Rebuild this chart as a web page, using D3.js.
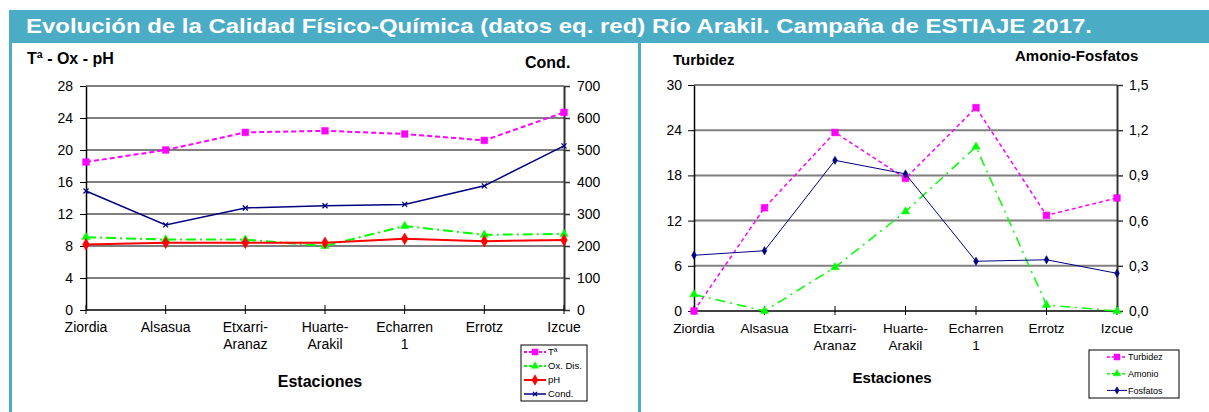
<!DOCTYPE html>
<html>
<head>
<meta charset="utf-8">
<script src="https://cdn.jsdelivr.net/npm/d3@7"></script>
<style>
  body { margin: 0; background: #fff; }
  svg { display: block; font-family: "Liberation Sans", Arial, sans-serif; }
</style>
</head>
<body>
<div id="main-content"></div>
<script>
// Stations along the river ("|" = line break)
const stations = ["Ziordia", "Alsasua", "Etxarri-|Aranaz", "Huarte-|Arakil", "Echarren|1", "Errotz", "Izcue"];

// Left chart: Tª, Ox. Dis., pH (left axis) and Cond. (right axis)
const temperatura = [18.5, 20.0, 22.2, 22.4, 22.0, 21.2, 24.7];
const oxDisuelto = [9.1, 8.8, 8.8, 8.0, 10.5, 9.4, 9.5];
const ph = [8.2, 8.4, 8.4, 8.4, 8.9, 8.6, 8.75];
const conductividad = [372, 266, 319, 326, 330, 388, 513];
const leftTicksA = [0, 4, 8, 12, 16, 20, 24, 28];
const leftTicksB = [0, 100, 200, 300, 400, 500, 600, 700];

// Right chart: Turbidez (left axis), Amonio and Fosfatos (right axis)
const turbidez = [0, 13.7, 23.7, 17.6, 27.0, 12.7, 15.0];
const amonio = [0.11, 0, 0.29, 0.66, 1.09, 0.04, 0];
const fosfatos = [0.37, 0.40, 1.0, 0.91, 0.33, 0.34, 0.25];
const rightTicksA = [0, 6, 12, 18, 24, 30];
const rightTicksB = [0, 0.3, 0.6, 0.9, 1.2, 1.5];

const teal = "#4bacc6";
const width = 1209;
const height = 412;

const svg = d3.select("#main-content")
  .append("svg")
  .attr("width", width)
  .attr("height", height);

// Frame: title bar, left border and divider
svg.append("rect").attr("x", 9).attr("y", 10).attr("width", width - 9).attr("height", 33).attr("fill", teal);
svg.append("rect").attr("x", 9).attr("y", 10).attr("width", 3).attr("height", height - 10).attr("fill", teal);
svg.append("rect").attr("x", 638).attr("y", 43).attr("width", 3).attr("height", height - 43).attr("fill", teal);

svg.append("text")
  .attr("x", 26)
  .attr("y", 33)
  .attr("fill", "#fff")
  .attr("font-size", 21)
  .attr("font-weight", "bold")
  .attr("textLength", 1066)
  .attr("lengthAdjust", "spacingAndGlyphs")
  .text("Evolución de la Calidad Físico-Química (datos eq. red) Río Arakil. Campaña de ESTIAJE 2017.");

// marker shapes
function markerPath(type, size) {
  if (type === "x") {
    const s = size;
    return `M${-s},${-s}L${s},${s}M${-s},${s}L${s},${-s}`;
  }
  const sym = { square: d3.symbolSquare, triangle: d3.symbolTriangle, diamond: d3.symbolDiamond }[type];
  return d3.symbol().type(sym).size(size)();
}

function drawMarker(g, type, size, color, cx, cy) {
  g.append("path")
    .attr("transform", `translate(${cx},${cy})`)
    .attr("d", markerPath(type, size))
    .attr("fill", type === "x" ? "none" : color)
    .attr("stroke", color)
    .attr("stroke-width", type === "x" ? 1.3 : 0.5);
}

function drawChart(cfg) {
  const g = svg.append("g");

  const x = d3.scalePoint()
    .domain(d3.range(stations.length))
    .range([cfg.left, cfg.right]);
  const yA = d3.scaleLinear().domain([0, d3.max(cfg.ticksA)]).range([cfg.bottom, cfg.top]);
  const yB = d3.scaleLinear().domain([0, d3.max(cfg.ticksB)]).range([cfg.bottom, cfg.top]);

  // gridlines
  g.append("g")
    .selectAll("line")
    .data(cfg.ticksA.slice(1))
    .join("line")
    .attr("x1", cfg.left)
    .attr("x2", cfg.right)
    .attr("y1", d => yA(d))
    .attr("y2", d => yA(d))
    .attr("stroke", "#7f7f7f")
    .attr("stroke-width", 2);

  // left axis
  const axA = g.append("g")
    .attr("transform", `translate(${cfg.left},0)`)
    .call(d3.axisLeft(yA).tickValues(cfg.ticksA).tickSize(6).tickSizeOuter(0).tickPadding(cfg.padA).tickFormat(cfg.formatA));
  axA.select(".domain").attr("stroke", "#000").attr("stroke-width", 1.5);
  axA.selectAll(".tick line").attr("stroke", "#000");
  axA.selectAll(".tick text").attr("font-size", cfg.tickFont).attr("fill", "#000").attr("font-family", null);

  // right axis
  const axB = g.append("g")
    .attr("transform", `translate(${cfg.right},0)`)
    .call(d3.axisRight(yB).tickValues(cfg.ticksB).tickSize(6).tickSizeOuter(0).tickPadding(cfg.padB).tickFormat(cfg.formatB));
  axB.select(".domain").attr("stroke", "#333").attr("stroke-width", 2);
  axB.selectAll(".tick line").attr("stroke", "#333").attr("stroke-width", 1.5);
  axB.selectAll(".tick text").attr("font-size", cfg.tickFont).attr("fill", "#000").attr("font-family", null);

  // bottom axis
  g.append("line")
    .attr("x1", cfg.left).attr("x2", cfg.right)
    .attr("y1", cfg.bottom).attr("y2", cfg.bottom)
    .attr("stroke", "#000").attr("stroke-width", 1.5);
  g.append("g")
    .selectAll("line")
    .data(d3.range(stations.length))
    .join("line")
    .attr("x1", d => x(d)).attr("x2", d => x(d))
    .attr("y1", cfg.bottom - 5).attr("y2", cfg.bottom + 4)
    .attr("stroke", "#000");

  // station labels (one or two lines)
  stations.forEach((name, i) => {
    const t = g.append("text")
      .attr("x", x(i))
      .attr("y", cfg.labelY)
      .attr("text-anchor", "middle")
      .attr("font-size", cfg.labelFont);
    name.split("|").forEach((part, j) => {
      t.append("tspan").attr("x", x(i)).attr("dy", j === 0 ? 0 : cfg.labelGap).text(part);
    });
  });

  // series lines + markers
  cfg.series.forEach(s => {
    const scale = s.axis === "A" ? yA : yB;
    const line = d3.line().x((d, i) => x(i)).y(d => scale(d));
    g.append("path")
      .datum(s.values)
      .attr("d", line)
      .attr("fill", "none")
      .attr("stroke", s.color)
      .attr("stroke-width", s.width)
      .attr("stroke-dasharray", s.dash);
    s.values.forEach((v, i) => drawMarker(g, s.marker, s.size, s.color, x(i), scale(v)));
  });

  // axis titles
  cfg.titles.forEach(t => {
    g.append("text")
      .attr("x", t.x)
      .attr("y", t.y)
      .attr("text-anchor", t.anchor || "start")
      .attr("font-size", t.size)
      .attr("font-weight", "bold")
      .text(t.text);
  });

  // legend
  const lg = cfg.legend;
  g.append("rect")
    .attr("x", lg.x).attr("y", lg.y)
    .attr("width", lg.w).attr("height", lg.h)
    .attr("fill", "#fff")
    .attr("stroke", "#000");
  cfg.series.forEach((s, i) => {
    const ly = lg.y + lg.first + i * lg.step;
    g.append("line")
      .attr("x1", lg.lineX1).attr("x2", lg.lineX2)
      .attr("y1", ly).attr("y2", ly)
      .attr("stroke", s.color)
      .attr("stroke-width", s.width)
      .attr("stroke-dasharray", s.dash ? "3,2" : null);
    drawMarker(g, s.marker, s.size * 0.8, s.color, (lg.lineX1 + lg.lineX2) / 2, ly);
    g.append("text")
      .attr("x", lg.textX)
      .attr("y", ly)
      .attr("dy", "0.35em")
      .attr("font-size", lg.font)
      .text(s.name);
  });
}

drawChart({
  left: 86, right: 564, top: 86, bottom: 310,
  ticksA: leftTicksA, ticksB: leftTicksB,
  formatA: d3.format("d"), formatB: d3.format("d"),
  padA: 7, padB: 7,
  tickFont: 14, labelFont: 14, labelY: 332, labelGap: 17,
  series: [
    { name: "Tª", values: temperatura, axis: "A", color: "#ff00ff", width: 2, dash: "5,3", marker: "square", size: 45 },
    { name: "Ox. Dis.", values: oxDisuelto, axis: "A", color: "#00ff00", width: 2, dash: "10,4,2,4", marker: "triangle", size: 30 },
    { name: "pH", values: ph, axis: "A", color: "#ff0000", width: 2, dash: null, marker: "diamond", size: 40 },
    { name: "Cond.", values: conductividad, axis: "B", color: "#000080", width: 1.5, dash: null, marker: "x", size: 2.5 }
  ],
  titles: [
    { text: "Tª - Ox - pH", x: 27, y: 64, size: 16 },
    { text: "Cond.", x: 525, y: 68, size: 16 },
    { text: "Estaciones", x: 320, y: 387, size: 16, anchor: "middle" }
  ],
  legend: { x: 521, y: 345, w: 66, h: 56, first: 7, step: 14, lineX1: 524, lineX2: 546, textX: 548, font: 9.5 }
});

drawChart({
  left: 694, right: 1117, top: 85, bottom: 311,
  ticksA: rightTicksA, ticksB: rightTicksB,
  formatA: d3.format("d"), formatB: d => d3.format(".1f")(d).replace(".", ","),
  padA: 6, padB: 6,
  tickFont: 14, labelFont: 13.5, labelY: 333, labelGap: 17,
  series: [
    { name: "Turbidez", values: turbidez, axis: "A", color: "#ff00ff", width: 1.5, dash: "4,3", marker: "square", size: 45 },
    { name: "Amonio", values: amonio, axis: "B", color: "#00ff00", width: 1.5, dash: "10,5,2,5", marker: "triangle", size: 30 },
    { name: "Fosfatos", values: fosfatos, axis: "B", color: "#000080", width: 1, dash: null, marker: "diamond", size: 20 }
  ],
  titles: [
    { text: "Turbidez", x: 673, y: 65, size: 15 },
    { text: "Amonio-Fosfatos", x: 1015, y: 61, size: 15 },
    { text: "Estaciones", x: 892, y: 383, size: 15, anchor: "middle" }
  ],
  legend: { x: 1089, y: 350, w: 90, h: 48, first: 7, step: 16.7, lineX1: 1107, lineX2: 1127, textX: 1128, font: 9 }
});
</script>
</body>
</html>
